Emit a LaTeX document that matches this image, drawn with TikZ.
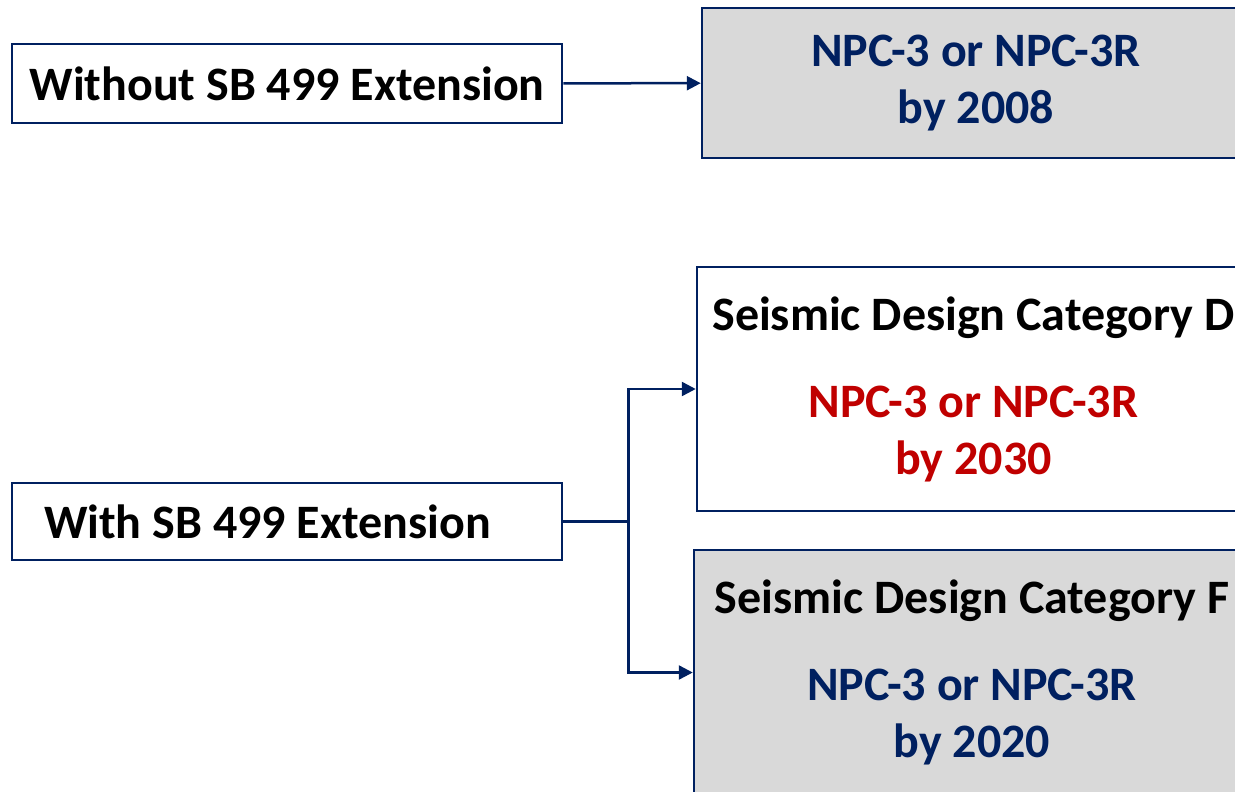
\documentclass[tikz,border=0pt]{standalone}
\usepackage{fontspec}
\setmainfont{Carlito}
\usetikzlibrary{arrows.meta}
\usetikzlibrary{positioning}
\definecolor{navy}{HTML}{002060}
\definecolor{darkred}{HTML}{C00000}
\definecolor{boxgray}{HTML}{D9D9D9}
\tikzset{box/.style = {draw = navy, line width = 2.5pt, inner sep = 0, align = center, font = \bfseries\fontsize{48}{57}\selectfont}}
\tikzset{link/.style = {draw = navy, line width = 2.5pt, -{Triangle[length = 14pt, width = 14pt]}}}

\begin{document}
\begin{tikzpicture}[x = 1pt, y = -1pt]
    \useasboundingbox (0, 0) rectangle (1235, 792);
    \clip (0, 0) rectangle (1235, 792);

    \node [box, minimum width = 550, minimum height = 79] (without) at (287, 83.5) {Without SB 499 Extension};
    \node [box, minimum width = 550, minimum height = 77, text width = 486, align = flush left] (with) at (287, 521.5) {With SB 499 Extension};

    \node [box, fill = boxgray, text = navy, minimum width = 548, minimum height = 150] (old) at (976, 83) {NPC-3 or NPC-3R\\by 2008};
    \node [box, fill = white, minimum width = 553, minimum height = 244] (catd) at (973.5, 389) {Seismic Design Category D\\[30pt]\textcolor{darkred}{NPC-3 or NPC-3R}\\\textcolor{darkred}{by 2030}};
    \node [box, fill = boxgray, minimum width = 556, minimum height = 245] (catf) at (972, 672.5) {Seismic Design Category F\\[30pt]\textcolor{navy}{NPC-3 or NPC-3R}\\\textcolor{navy}{by 2020}};

    \draw [link] (without) -- (old);
    \draw [draw = navy, line width = 2.5pt] (with.east) -- ++(65, 0) coordinate (split);
    \draw [link] (split) |- (catd.west);
    \draw [link] (split) |- (catf.west);
\end{tikzpicture}
\end{document}
